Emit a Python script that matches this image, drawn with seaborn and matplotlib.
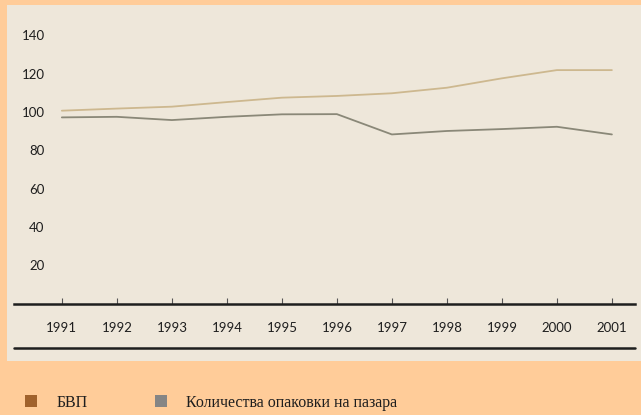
import matplotlib
matplotlib.use("Agg")
import matplotlib.pyplot as plt
import seaborn as sns
import pandas as pd
from matplotlib.patches import Rectangle
from matplotlib.lines import Line2D

years = [1991, 1992, 1993, 1994, 1995, 1996, 1997, 1998, 1999, 2000, 2001]
gdp = [100.7, 101.8, 102.8, 105.2, 107.5, 108.4, 109.8, 112.7, 117.6, 121.9, 121.9]
packaging = [97.2, 97.5, 95.8, 97.5, 98.8, 98.9, 88.3, 90.1, 91.1, 92.3, 88.3]
series_names = ["БВП", "Количества опаковки на пазара"]
yticks = [20, 40, 60, 80, 100, 120, 140]

df = pd.DataFrame({
    "year": years * 2,
    "value": gdp + packaging,
    "series": [series_names[0]] * len(years) + [series_names[1]] * len(years),
})

sns.set_theme(style="white")
plt.rcParams["font.family"] = ["Lato", "DejaVu Sans"]

W, H = 641, 415
fig = plt.figure(figsize=(W / 100, H / 100), dpi=100)
fig.patch.set_facecolor("#FFCC99")

# inner panel
fig.add_artist(Rectangle((7 / W, 1 - 361 / H), 634 / W, 356 / H,
                         transform=fig.transFigure, facecolor="#EEE7DA",
                         edgecolor="none", zorder=0))

ax_left, ax_right = 14, 635
ax_bottom, ax_top = 303.5, 5
ax = fig.add_axes([ax_left / W, 1 - ax_bottom / H, (ax_right - ax_left) / W, (ax_bottom - ax_top) / H])
ax.set_facecolor("none")
ax.set_zorder(2)

line_colors = {series_names[0]: "#CDB88F", series_names[1]: "#8A8878"}
sns.lineplot(data=df, x="year", y="value", hue="series", palette=line_colors,
             ax=ax, legend=False, linewidth=1.3)

ax.set_xlim(1990.13, 2001.42)
ax.set_ylim(0, 155.9)
ax.set_xlabel("")
ax.set_ylabel("")
for s in ["top", "right", "left"]:
    ax.spines[s].set_visible(False)
ax.spines["bottom"].set_color("#1E1E1E")
ax.spines["bottom"].set_linewidth(1.8)

ax.set_xticks(years)
ax.set_xticklabels([str(y) for y in years])
ax.tick_params(axis="x", direction="in", length=4, width=0.8, color="#555555",
               pad=13.5, labelsize=9.5, labelcolor="#1E1E1E", bottom=True)
ax.set_yticks(yticks)
ax.set_yticklabels([str(v) for v in yticks])
ax.tick_params(axis="y", length=0, pad=-22, labelsize=9.5, labelcolor="#1E1E1E")
for lbl in ax.get_yticklabels():
    lbl.set_horizontalalignment("right")

# second rule below the year labels
fig.add_artist(Line2D([14 / W, 635 / W], [1 - 348 / H, 1 - 348 / H],
                      transform=fig.transFigure, color="#1E1E1E", linewidth=1.8, zorder=3))

# legend
legend_colors = ["#A0622D", "#858585"]
sq_x = [25, 155]
txt_x = [57, 186]
for name, c, sx, tx in zip(series_names, legend_colors, sq_x, txt_x):
    fig.add_artist(Rectangle((sx / W, 1 - 407 / H), 12 / W, 12 / H,
                             transform=fig.transFigure, facecolor=c, edgecolor="none", zorder=3))
    fig.text(tx / W, 1 - 403 / H, name, fontsize=11.5, color="#1E1E1E",
             family=["Liberation Serif", "DejaVu Serif"], va="center", ha="left")

fig.savefig("out.png", dpi=100, facecolor=fig.get_facecolor())
